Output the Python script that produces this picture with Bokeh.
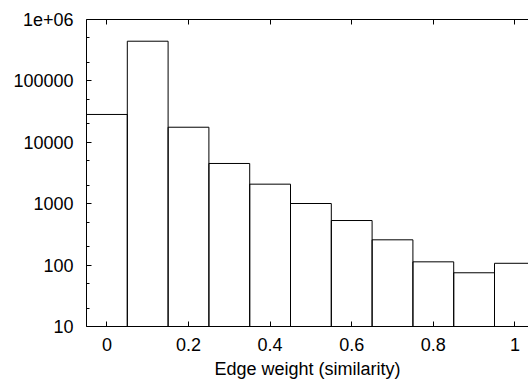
from bokeh.plotting import figure
from bokeh.models import FixedTicker, LinearAxis, Range1d, ColumnDataSource, CustomLabelingPolicy
from bokeh.embed import file_html
from bokeh.resources import INLINE

# Data
bin_centers = [0.0, 0.1, 0.2, 0.3, 0.4, 0.5, 0.6, 0.7, 0.8, 0.9, 1.0]
counts = [28400, 443000, 17600, 4520, 2080, 1007, 532, 258, 113, 75, 107]
bin_width = 0.1
x_ticks = [0, 0.2, 0.4, 0.6, 0.8, 1.0]
x_tick_labels = ["0", "0.2", "0.4", "0.6", "0.8", "1"]
y_ticks = [10, 100, 1000, 10000, 100000, 1000000]
y_tick_labels = ["10", "100", "1000", "10000", "100000", "1e+06"]
y_minor_ticks = [20, 50, 200, 500, 2000, 5000, 20000, 50000, 200000, 500000]
x_label = "Edge weight (similarity)"

FONT = "Liberation Sans"
FS = "18px"

p = figure(width=528, height=383, output_backend="svg", toolbar_location=None,
           y_axis_type="log",
           x_range=Range1d(-0.05, 1.0333), y_range=Range1d(10, 1e6),
           min_border_left=86, min_border_right=0, min_border_top=19, min_border_bottom=57)
p.outline_line_color = None
p.xgrid.visible = False
p.ygrid.visible = False
p.background_fill_color = "white"

src = ColumnDataSource(dict(
    left=[c - bin_width / 2 for c in bin_centers],
    right=[c + bin_width / 2 for c in bin_centers],
    top=counts,
    bottom=[10] * len(counts),
))
p.quad(left="left", right="right", top="top", bottom="bottom", source=src,
       fill_color=None, line_color="black", line_width=1)

# bottom axis
xa = p.xaxis[0]
xa.ticker = FixedTicker(ticks=x_ticks)
xa.major_label_overrides = {t: l for t, l in zip(x_ticks, x_tick_labels)}
xa.major_tick_in = 5
xa.major_tick_out = 0
xa.minor_tick_in = 0
xa.minor_tick_out = 0
xa.major_label_standoff = 11
xa.major_label_text_font = FONT
xa.major_label_text_font_size = FS
xa.major_label_text_color = "black"
xa.axis_label = x_label
xa.axis_label_text_font = FONT
xa.axis_label_text_font_size = FS
xa.axis_label_text_font_style = "normal"
xa.axis_label_text_color = "black"
xa.axis_label_standoff = 5
xa.axis_line_color = "black"
xa.major_tick_line_color = "black"

# left axis
ya = p.yaxis[0]
ya.ticker = FixedTicker(ticks=y_ticks, minor_ticks=y_minor_ticks)
ya.major_label_overrides = {t: l for t, l in zip(y_ticks, y_tick_labels)}
ya.major_tick_in = 5
ya.major_tick_out = 0
ya.minor_tick_in = 3
ya.minor_tick_out = 0
ya.major_label_standoff = 13
ya.major_label_text_font = FONT
ya.major_label_text_font_size = FS
ya.major_label_text_color = "black"
ya.axis_line_color = "black"
ya.major_tick_line_color = "black"
ya.minor_tick_line_color = "black"

# top mirror axis (ticks only, no labels)
ta = LinearAxis(ticker=FixedTicker(ticks=x_ticks))
ta.major_tick_in = 5
ta.major_tick_out = 0
ta.minor_tick_in = 0
ta.minor_tick_out = 0
ta.major_label_policy = CustomLabelingPolicy(code="""
for (const i of indices) { indices.unset(i) }
return indices
""")
ta.major_label_standoff = 0
ta.axis_line_color = "black"
ta.major_tick_line_color = "black"
p.add_layout(ta, "above")

open("out.html", "w").write(file_html(p, INLINE))
